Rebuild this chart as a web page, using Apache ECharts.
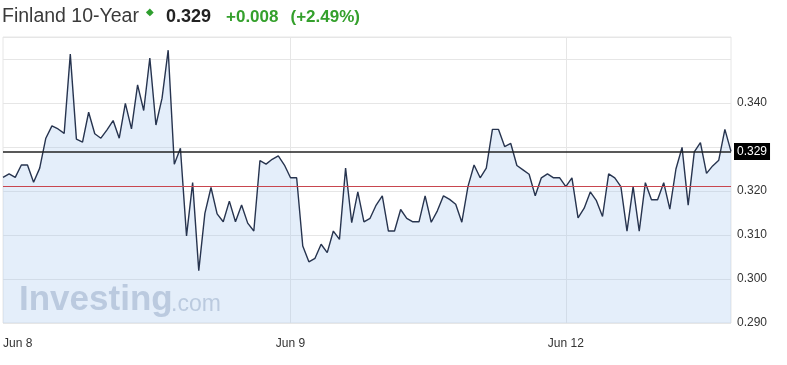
<!DOCTYPE html>
<html><head><meta charset="utf-8">
<script src="https://cdn.jsdelivr.net/npm/echarts@6/dist/echarts.min.js"></script>
<style>html,body{margin:0;padding:0;background:#fff}#c{width:787px;height:365px}</style>
</head><body><div id="c"></div>
<script>
// ---- data ----
const values = [
  0.3231,0.3239,0.3231,0.3259,0.3259,0.3220,0.3252,0.3320,0.3348,0.3341,
  0.3331,0.3511,0.3318,0.3311,0.3379,0.3330,0.3320,0.3339,0.3360,0.3320,
  0.3399,0.3341,0.3441,0.3383,0.3502,0.3350,0.3411,0.3520,0.3261,0.3297,
  0.3098,0.3219,0.3019,0.3149,0.3208,0.3148,0.3130,0.3177,0.3130,0.3168,
  0.3127,0.3109,0.3269,0.3261,0.3272,0.3280,0.3259,0.3230,0.3230,0.3075,
  0.3039,0.3047,0.3079,0.3060,0.3109,0.3090,0.3252,0.3128,0.3198,0.3130,
  0.3138,0.3168,0.3189,0.3109,0.3109,0.3158,0.3138,0.3130,0.3130,0.3189,
  0.3129,0.3155,0.3189,0.3181,0.3170,0.3129,0.3210,0.3259,0.3230,0.3252,
  0.3340,0.3340,0.3301,0.3308,0.3258,0.3248,0.3238,0.3189,0.3230,0.3239,
  0.3230,0.3230,0.3210,0.3230,0.3139,0.3161,0.3198,0.3178,0.3142,0.3239,
  0.3230,0.3210,0.3109,0.3210,0.3109,0.3219,0.3180,0.3180,0.3219,0.3159,
  0.3250,0.3299,0.3168,0.3289,0.3310,0.3240,0.3257,0.3270,0.3340,0.3290
];
const tickIndex = [0, 47, 92];
const tickLabels = ['Jun 8', 'Jun 9', 'Jun 12'];
const yTickLabels = [0.290, 0.300, 0.310, 0.320, 0.340];
const currentPrice = 0.329;
const prevClose = 0.321;
const titleName = 'Finland 10-Year';
const titlePrice = '0.329';
const titleChange = '+0.008';
const titlePct = '(+2.49%)';

const categories = values.map((v, i) => {
  const k = tickIndex.indexOf(i);
  return k >= 0 ? tickLabels[k] : '';
});

const FONT = '"Liberation Sans", Arial, sans-serif';
const chart = echarts.init(document.getElementById('c'), null, {renderer: 'canvas'});
chart.setOption({
  animation: false,
  backgroundColor: '#fff',
  title: {
    left: 2, top: 7, padding: 0,
    text: '{a|' + titleName + '}{d|◆}{b|' + titlePrice + '}{g|' + titleChange + '}{g|' + titlePct + '}',
    textStyle: {
      fontWeight: 'normal',
      rich: {
        a: {fontSize: 19.5, color: '#3a3a3a', fontWeight: 'normal', fontFamily: FONT},
        d: {fontSize: 10, color: '#2e9e2e', fontFamily: FONT, padding: [0, 12, 9, 7]},
        b: {fontSize: 18, color: '#222', fontWeight: 'bold', fontFamily: FONT, padding: [0, 15, 0, 0]},
        g: {fontSize: 17, color: '#34a02c', fontWeight: 'bold', fontFamily: FONT, padding: [0, 12, 0, 0]}
      }
    }
  },
  grid: {left: 3, right: 56, top: 37, bottom: 42, show: true, borderColor: '#e6e6e6', borderWidth: 1},
  xAxis: {
    type: 'category', boundaryGap: false, data: categories,
    axisLine: {show: false}, axisTick: {show: false},
    axisLabel: {interval: 0, color: '#333', fontFamily: FONT, fontSize: 12, margin: 15, alignMinLabel: 'left'},
    splitLine: {show: true, interval: (i) => i > 0 && tickIndex.indexOf(i) >= 0, lineStyle: {color: '#e6e6e6', width: 1}}
  },
  yAxis: {
    type: 'value', position: 'right', min: 0.29, max: 0.355, interval: 0.01,
    axisLine: {show: false}, axisTick: {show: false},
    axisLabel: {color: '#333', fontFamily: FONT, fontSize: 12, margin: 6, showMaxLabel: false,
      formatter: (v) => yTickLabels.some(t => Math.abs(t - v) < 1e-6) ? v.toFixed(3) : ''},
    splitLine: {show: true, lineStyle: {color: '#e6e6e6', width: 1}}
  },
  series: [{
    type: 'line', data: values, symbol: 'none', smooth: false,
    lineStyle: {color: '#27344f', width: 1.4},
    areaStyle: {color: 'rgba(163,198,238,0.42)', origin: 'start'},
    markLine: {
      silent: true, symbol: 'none', animation: false, precision: 4,
      data: [
        {yAxis: prevClose, lineStyle: {color: '#c8464f', width: 1, type: 'solid'}, label: {show: false}},
        {yAxis: currentPrice, lineStyle: {color: '#222', width: 1.5, type: 'solid'},
         label: {show: true, position: 'end', distance: 3, formatter: currentPrice.toFixed(3),
           backgroundColor: '#000', color: '#fff', padding: [3, 3, 2, 3], fontSize: 12, fontFamily: FONT}}
      ]
    }
  }],
  graphic: [
    {type: 'text', left: 19, top: 283, silent: true,
     style: {text: 'Investing', font: 'bold 35px ' + FONT, fill: 'rgba(140,155,180,0.5)'}},
    {type: 'text', left: 171, top: 293, silent: true,
     style: {text: '.com', font: '23px ' + FONT, fill: 'rgba(140,155,180,0.5)'}}
  ]
});
</script></body></html>
